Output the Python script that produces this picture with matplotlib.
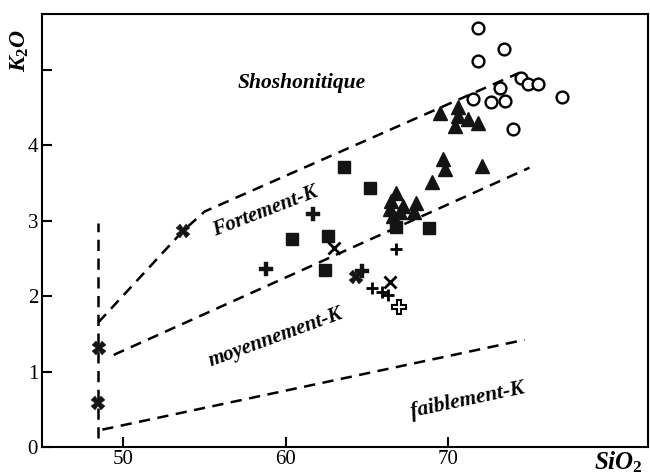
import matplotlib
matplotlib.use("Agg")
import matplotlib.pyplot as plt

plt.rcParams["font.family"] = "Liberation Serif"
plt.rcParams["mathtext.fontset"] = "custom"
plt.rcParams["mathtext.it"] = "Liberation Serif:italic:bold"
plt.rcParams["mathtext.rm"] = "Liberation Serif:bold"

# --- data (SiO2, K2O) ---
circ_x = [71.8, 73.4, 71.8, 74.5, 74.9, 75.5, 73.2, 77.0, 71.5, 72.6, 73.5, 74.0]
circ_y = [5.55, 5.27, 5.11, 4.89, 4.81, 4.81, 4.76, 4.64, 4.61, 4.57, 4.59, 4.21]

tri_x = [69.5, 70.6, 70.6, 70.4, 71.2, 71.8, 69.7, 69.8, 72.1, 69.0,
         66.8, 66.5, 67.2, 68.0, 66.4, 66.6, 67.9, 67.0]
tri_y = [4.42, 4.51, 4.39, 4.25, 4.34, 4.29, 3.81, 3.68, 3.72, 3.51,
         3.37, 3.26, 3.19, 3.23, 3.15, 3.06, 3.12, 3.12]

sq_x = [63.6, 65.2, 60.4, 62.6, 62.4, 66.8, 68.8]
sq_y = [3.71, 3.43, 2.76, 2.80, 2.34, 2.92, 2.90]

bigx_x = [53.65, 48.5, 48.45, 64.3]
bigx_y = [2.86, 1.31, 0.58, 2.25]

bigplus_x = [61.7, 58.75, 64.7]
bigplus_y = [3.09, 2.36, 2.33]

plus_x = [65.3, 65.9, 66.3, 66.8]
plus_y = [2.10, 2.06, 2.01, 2.62]

thinx_x = [62.95, 66.4]
thinx_y = [2.64, 2.18]

openplus_x = [66.95]
openplus_y = [1.86]

# boundary lines
vert_x = [48.45, 48.45]
vert_y = [0.12, 2.97]
shosho_x = [48.45, 53.65, 55.0, 74.4]
shosho_y = [1.65, 2.86, 3.12, 4.96]
highk_x = [49.4, 75.0]
highk_y = [1.22, 3.70]
lowk_x = [48.7, 74.7]
lowk_y = [0.23, 1.42]

y_ticklabels = ["0", "1", "2", "3", "4", ""]

fig = plt.figure(figsize=(6.5, 4.75), dpi=100)
ax = fig.add_axes([0.065, 0.059, 0.932, 0.912])

dash = (0, (4.5, 3))
for lx, ly in [(vert_x, vert_y), (shosho_x, shosho_y), (highk_x, highk_y), (lowk_x, lowk_y)]:
    ax.plot(lx, ly, color="black", lw=1.8, linestyle=dash)

ax.plot(circ_x, circ_y, "o", ms=8.5, mfc="white", mec="black", mew=1.7, ls="none")
ax.plot(tri_x, tri_y, "^", ms=10.5, color="#141414", ls="none")
ax.plot(sq_x, sq_y, "s", ms=9, color="#141414", ls="none")
ax.plot(bigx_x, bigx_y, "X", ms=10, color="#141414", mew=0.3, ls="none")
ax.plot(bigplus_x, bigplus_y, "P", ms=10, color="#141414", mew=0.3, ls="none")
ax.plot(plus_x, plus_y, "+", ms=9, color="black", mew=2, ls="none")
ax.plot(thinx_x, thinx_y, "x", ms=8, color="black", mew=2, ls="none")
ax.plot(openplus_x, openplus_y, "P", ms=10, mfc="white", mec="black", mew=1.5, ls="none")

lab = dict(fontweight="bold", style="italic", color="black", ha="center", va="center")
ax.text(61.0, 4.82, "Shoshonitique", fontsize=15.5, **lab)
ax.text(58.7, 3.12, "Fortement-K", fontsize=15, rotation=21, **lab)
ax.text(59.35, 1.45, "moyennement-K", fontsize=15, rotation=20, **lab)
ax.text(71.2, 0.62, "faiblement-K", fontsize=15.5, rotation=12, **lab)

ax.set_xlim(45, 82.3)
ax.set_ylim(0, 5.74)
ax.set_xticks([50, 60, 70])
ax.set_yticks([0, 1, 2, 3, 4, 5])
ax.set_yticklabels(y_ticklabels)
ax.tick_params(direction="in", length=7, width=1.5, labelsize=15, pad=3)
ax.tick_params(axis="x", pad=2)
for s in ax.spines.values():
    s.set_linewidth(1.5)

fig.text(0.031, 0.893, r"$K_2O$", fontsize=17, rotation=90, ha="center", va="center")
fig.text(0.914, 0.026, r"$SiO_2$", fontsize=18, ha="left", va="center")

fig.savefig("out.png", dpi=100)
